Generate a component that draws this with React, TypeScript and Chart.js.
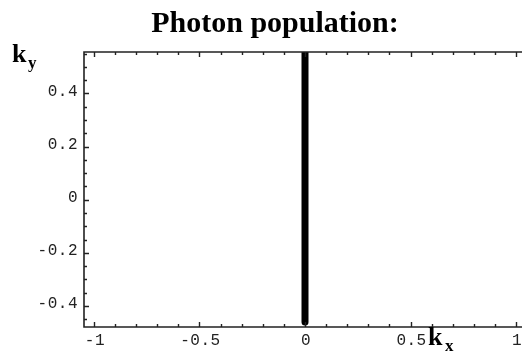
import React, { useEffect, useRef } from "react";
import { Chart, registerables } from "chart.js";

Chart.register(...registerables);

// Photon population along k_y at k_x = 0
const kxValues = [0, 0];
const kyValues = [-0.46, 0.56];

const xTickValues = [-1, -0.5, 0, 0.5, 1];
const xTickLabels = ["-1", "-0.5", "0", "0.5", "1"];
const yTickValues = [-0.4, -0.2, 0, 0.2, 0.4];
const yTickLabels = ["-0.4", "-0.2", "0", "0.2", "0.4"];
const xMinorStep = 0.1;
const yMinorStep = 0.05;

const titleText = "Photon population:";

function minorTicks(from: number, to: number, step: number): number[] {
  const out: number[] = [];
  const n = Math.round((to - from) / step);
  for (let i = 0; i <= n; i++) out.push(+(from + i * step).toFixed(4));
  return out;
}

const framePlugin = {
  id: "mathFrame",
  afterDraw(chart: any) {
    const { ctx, chartArea, scales } = chart;
    const xs = scales.x;
    const ys = scales.y;
    const { left, right, top, bottom } = chartArea;
    ctx.save();

    // frame: left, top and bottom edges
    ctx.strokeStyle = "#222";
    ctx.lineWidth = 1.6;
    ctx.beginPath();
    ctx.moveTo(right + 2, top);
    ctx.lineTo(left, top);
    ctx.lineTo(left, bottom);
    ctx.lineTo(right + 2, bottom);
    ctx.stroke();

    // ticks on the inside of the frame
    ctx.lineWidth = 1.4;
    const isMajor = (v: number, list: number[]) => list.some((t) => Math.abs(t - v) < 1e-6);
    ctx.beginPath();
    for (const v of minorTicks(-1, 1, xMinorStep)) {
      const px = Math.round(xs.getPixelForValue(v)) + 0.5;
      const len = isMajor(v, xTickValues) ? 5 : 3;
      ctx.moveTo(px, bottom);
      ctx.lineTo(px, bottom - len);
      ctx.moveTo(px, top);
      ctx.lineTo(px, top + len);
    }
    for (const v of minorTicks(-0.45, 0.55, yMinorStep)) {
      const py = Math.round(ys.getPixelForValue(v)) + 0.5;
      const len = isMajor(v, yTickValues) ? 5 : 3;
      ctx.moveTo(left, py);
      ctx.lineTo(left + len, py);
    }
    ctx.stroke();

    // tick labels
    ctx.fillStyle = "#222";
    ctx.font = "16px 'Liberation Mono', 'Courier New', monospace";
    (ctx as any).letterSpacing = "0.5px";
    ctx.textBaseline = "top";
    ctx.textAlign = "center";
    xTickValues.forEach((v, i) => {
      ctx.fillText(xTickLabels[i], xs.getPixelForValue(v) + 1, bottom + 6);
    });
    ctx.textAlign = "right";
    ctx.textBaseline = "middle";
    yTickValues.forEach((v, i) => {
      ctx.fillText(yTickLabels[i], left - 6, ys.getPixelForValue(v) - 2);
    });
    (ctx as any).letterSpacing = "0px";

    // title
    ctx.fillStyle = "#000";
    ctx.textAlign = "center";
    ctx.textBaseline = "alphabetic";
    ctx.font = "bold 30px 'Liberation Serif', 'Times New Roman', serif";
    ctx.fillText(titleText, 275, 32);

    // axis labels k_y and k_x
    ctx.textAlign = "left";
    ctx.font = "bold 26px 'Liberation Serif', 'Times New Roman', serif";
    ctx.fillText("k", 12, 62);
    ctx.fillText("k", 428, 345);
    ctx.font = "bold 17px 'Liberation Serif', 'Times New Roman', serif";
    ctx.fillText("y", 28, 68);
    ctx.fillText("x", 445, 351);

    ctx.restore();
  },
};

export default function App() {
  const canvasRef = useRef<HTMLCanvasElement | null>(null);

  useEffect(() => {
    if (!canvasRef.current) return;
    const chart = new Chart(canvasRef.current, {
      type: "scatter",
      data: {
        datasets: [
          {
            data: kxValues.map((x, i) => ({ x, y: kyValues[i] })),
            showLine: true,
            borderColor: "#000",
            borderWidth: 7,
            borderCapStyle: "round",
            pointRadius: 0,
          } as any,
        ],
      },
      options: {
        animation: false,
        responsive: false,
        maintainAspectRatio: false,
        devicePixelRatio: 1,
        layout: { padding: { left: 84, top: 52, right: 0, bottom: 29 } },
        plugins: { legend: { display: false }, tooltip: { enabled: false }, title: { display: false } },
        scales: {
          x: { type: "linear", min: -1.047, max: 1.028, display: false },
          y: { type: "linear", min: -0.479, max: 0.556, display: false },
        },
      },
      plugins: [framePlugin],
    });
    return () => chart.destroy();
  }, []);

  return (
    <div style={{ position: "absolute", left: 0, top: 0, width: 522, height: 356, background: "#fff" }}>
      <canvas ref={canvasRef} width={522} height={356} style={{ width: 522, height: 356 }} />
    </div>
  );
}
